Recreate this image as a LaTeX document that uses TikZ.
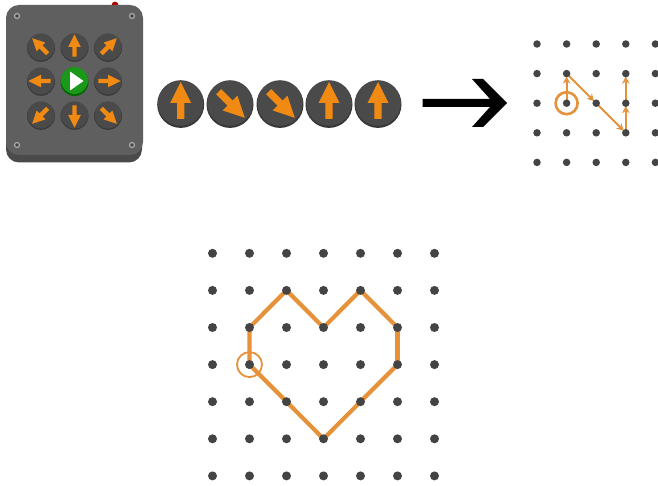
\documentclass[tikz,border=0pt]{standalone}
\usetikzlibrary{arrows.meta}
\definecolor{orng}{HTML}{F08A12}
\definecolor{lineor}{HTML}{E5923A}
\definecolor{panel}{HTML}{5F5F5F}
\definecolor{panelside}{HTML}{4A4A4A}
\definecolor{btn}{HTML}{4A4A4A}
\definecolor{btnside}{HTML}{383838}
\definecolor{dotc}{HTML}{444444}
\tikzset{
  x=1pt,y=-1pt,
  griddot/.style={circle,fill=dotc,inner sep=0pt,minimum size=#1},
  heartline/.style={draw=lineor,line width=4.2pt,line join=round,line cap=round},
  startring/.style={draw=lineor,line width=#1,fill=none},
  smallarrow/.style={draw=lineor,line width=2pt,-{Stealth[length=7pt,width=7.5pt]},shorten >=3pt},
  screw/.style={circle,draw=#1,fill=panel!70!black,line width=1.3pt,inner sep=0pt,minimum size=5pt},
}
% \btnarrow{cx}{cy}{r}{rotation}
\newcommand{\btnarrow}[4]{%
  \fill[btnside] (#1,#2) ++(0,0.06*#3) circle[radius=#3];
  \fill[btn] (#1,#2) circle[radius=0.97*#3];
  \begin{scope}[shift={(#1,#2)},rotate=-#4,scale=#3/23.5]
    \fill[orng] (0,-21) -- (10.5,0) -- (3.6,0) -- (3.6,16) -- (-3.6,16) -- (-3.6,0) -- (-10.5,0) -- cycle;
  \end{scope}}
\begin{document}
\begin{tikzpicture}
\useasboundingbox (0,0) rectangle (658,486);
\fill[white] (0,0) rectangle (658,486);
% panel
\fill[red!70!black] (115,5) circle[radius=3.4];
\fill[panelside] (6,30) [rounded corners=13pt] -- (6,162.5) -- (142,162.5) -- (142,30) -- cycle;
\fill[panel, rounded corners=13pt] (6,5) rectangle (143,155);
\node[screw=gray!70!white] (s1) at (17,16) {};
\node[screw=gray!70!white] (s2) at (132,16) {};
\node[screw=gray!70!white] (s3) at (17,145) {};
\node[screw=gray!70!white] (s4) at (132,145) {};
% keypad
\btnarrow{41}{47}{14}{-45}
\btnarrow{74.5}{47}{14}{0}
\btnarrow{108}{47}{14}{45}
\btnarrow{41}{81}{14}{-90}
\btnarrow{108}{81}{14}{90}
\btnarrow{41}{115}{14}{-135}
\btnarrow{74.5}{115}{14}{180}
\btnarrow{108}{115}{14}{135}
\fill[green!40!black] (74.5,82) circle[radius=14];
\fill[green!55!black!90!white] (74.5,80.5) circle[radius=13.5];
\fill[white] (70,71.5) -- (83.5,81) -- (70,90.5) -- cycle;
% sequence
\btnarrow{180.7}{103}{23.5}{0}
\btnarrow{230}{103}{23.5}{135}
\btnarrow{280}{103}{23.5}{135}
\btnarrow{329}{103}{23.5}{0}
\btnarrow{378}{103}{23.5}{0}
% big arrow
\fill[black] (422.5,99) -- (490,99) -- (472,79) -- (483,79) -- (507,103) -- (483,127) -- (472,127) -- (490,107) -- (422.5,107) -- cycle;
% small grid
\foreach \i in {0,...,4}\foreach \j in {0,...,4}{
  \coordinate (a\i\j) at ({537+29.6*\i},{44+29.6*\j});
}
\node[startring=2.6pt,circle,minimum size=22pt,inner sep=0pt] (ringa) at (a12) {};
\draw[smallarrow] (a12) -- (a11);
\draw[smallarrow] (a11) -- (a22);
\draw[smallarrow] (a22) -- (a33);
\draw[smallarrow] (a33) -- (a32);
\draw[smallarrow] (a32) -- (a31);
\foreach \i in {0,...,4}\foreach \j in {0,...,4}{
  \node[griddot=7.5pt] (da\i\j) at (a\i\j) {};
}
% large grid
\foreach \i in {0,...,6}\foreach \j in {0,...,6}{
  \coordinate (b\i\j) at ({212.5+37*\i},{253.3+37.1*\j});
}
\draw[heartline] (b13) -- (b12) -- (b21) -- (b32) -- (b41) -- (b52) -- (b53) -- (b35) -- cycle;
\draw[lineor,line width=5.4pt] (b52) -- (b53);
\node[startring=1.8pt,circle,minimum size=25pt,inner sep=0pt] (ringb) at (b13) {};
\foreach \i in {0,...,6}\foreach \j in {0,...,6}{
  \node[griddot=9pt] (db\i\j) at (b\i\j) {};
}
\end{tikzpicture}
\end{document}
